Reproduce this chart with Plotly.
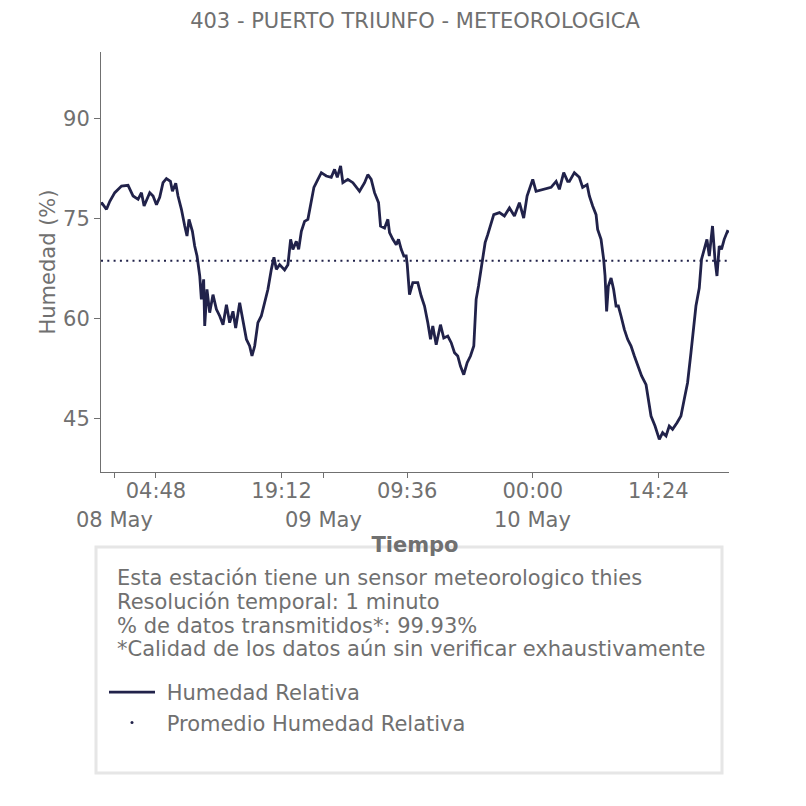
import pandas as pd
import plotly.graph_objects as go

# ---------------- data ----------------
titulo = "403 - PUERTO TRIUNFO - METEOROLOGICA"
inicio_serie = "2024-05-07 22:30"
fin_serie = "2024-05-10 22:30"
origen = "2024-05-08 00:00"

# hours since 08 May 00:00
horas = [-1.50, -1.44, -0.87, -0.49, 0.08, 0.85, 1.60, 2.18, 2.75, 3.14,
         3.44, 4.09, 4.47, 4.86, 5.23, 5.61, 6.00, 6.46, 6.69, 7.07,
         7.33, 7.72, 8.10, 8.36, 8.59, 8.98, 9.24, 9.51, 9.82, 10.01,
         10.27, 10.39, 10.65, 10.96, 11.34, 11.73, 12.11, 12.49, 12.88, 13.25,
         13.63, 13.94, 14.40, 14.78, 15.17, 15.54, 15.81, 16.12, 16.49, 16.88,
         17.26, 17.64, 18.03, 18.33, 18.60, 18.98, 19.55, 19.93, 20.24, 20.50,
         20.89, 21.16, 21.47, 21.84, 22.22, 22.53, 22.91, 23.37, 23.76, 24.33,
         24.90, 25.28, 25.59, 25.97, 26.23, 26.80, 27.38, 28.14, 28.72, 29.09,
         29.48, 29.86, 30.32, 30.55, 31.01, 31.39, 31.58, 31.96, 32.35, 32.61,
         32.92, 33.22, 33.49, 33.61, 33.76, 33.87, 34.25, 34.82, 35.21, 35.59,
         35.97, 36.28, 36.54, 36.93, 37.42, 37.80, 38.26, 38.65, 39.03, 39.40,
         39.71, 40.09, 40.48, 40.86, 41.24, 41.51, 41.78, 42.01, 42.27, 42.54,
         42.84, 43.15, 43.53, 44.18, 44.75, 45.33, 45.90, 46.47, 46.96, 47.35,
         47.73, 48.00, 48.38, 49.33, 50.10, 50.68, 51.05, 51.55, 52.00, 52.20,
         52.77, 53.34, 53.72, 54.23, 54.49, 54.87, 55.26, 55.44, 55.83, 56.13,
         56.29, 56.47, 56.67, 56.98, 57.27, 57.55, 57.81, 58.12, 58.50, 58.88,
         59.27, 59.65, 60.02, 60.48, 60.99, 61.25, 61.56, 62.02, 62.51, 62.89,
         63.28, 63.65, 64.03, 64.54, 64.99, 65.37, 65.75, 66.14, 66.44, 66.71,
         67.09, 67.35, 67.66, 67.97, 68.24, 68.61, 68.89, 69.12, 69.38, 69.64,
         69.95, 70.32, 70.50]

humedad = [77.0, 77.4, 76.4, 77.6, 78.9, 79.9, 80.0, 78.4, 77.9, 78.9,
           76.9, 78.9, 78.4, 77.1, 78.2, 80.4, 81.0, 80.6, 79.1, 80.3,
           78.4, 76.4, 73.9, 72.4, 74.9, 73.1, 70.9, 69.4, 66.4, 62.9,
           65.9, 58.9, 64.4, 60.9, 63.6, 61.4, 60.4, 59.1, 62.1, 59.4,
           61.1, 58.6, 62.4, 59.4, 56.9, 55.9, 54.4, 55.9, 59.4, 60.4,
           62.4, 64.4, 67.4, 69.2, 67.4, 68.1, 67.3, 68.1, 71.9, 70.4,
           71.6, 70.4, 73.1, 74.6, 74.9, 77.1, 79.7, 80.9, 81.9, 81.4,
           81.2, 82.4, 81.2, 82.9, 80.4, 80.9, 80.4, 79.1, 80.4, 81.6,
           80.9, 78.9, 77.4, 73.9, 73.6, 74.9, 72.9, 71.9, 71.1, 71.9,
           70.4, 69.4, 69.4, 68.1, 65.9, 63.6, 65.4, 65.4, 63.4, 61.9,
           59.4, 56.9, 58.9, 56.1, 59.1, 57.1, 57.4, 56.4, 54.9, 54.4,
           52.9, 51.6, 53.4, 54.4, 55.9, 62.9, 64.9, 66.9, 68.9, 71.4,
           72.6, 73.9, 75.6, 75.9, 75.4, 76.6, 75.4, 77.4, 75.1, 78.4,
           79.7, 80.9, 79.1, 79.4, 79.7, 80.6, 79.4, 81.9, 80.6, 80.6,
           81.9, 81.2, 79.7, 80.1, 78.4, 76.9, 75.6, 73.4, 71.9, 68.9,
           66.4, 61.1, 64.9, 66.1, 64.4, 61.9, 61.9, 60.4, 58.4, 56.9,
           55.9, 54.4, 52.9, 51.4, 50.1, 47.9, 45.4, 43.9, 41.9, 42.9,
           42.4, 43.9, 43.4, 44.4, 45.4, 47.9, 50.4, 54.9, 58.9, 61.9,
           64.6, 68.9, 70.4, 71.9, 69.4, 73.9, 68.9, 66.4, 70.9, 70.4,
           71.9, 73.1, 73.0]

promedio = 68.7

tick_x = ["2024-05-08 04:48", "2024-05-08 19:12", "2024-05-09 09:36",
          "2024-05-10 00:00", "2024-05-10 14:24"]
tick_txt = ["04:48", "19:12", "09:36", "00:00", "14:24"]
dias_x = ["2024-05-08 00:00", "2024-05-09 00:00", "2024-05-10 00:00"]
dias_txt = ["08 May", "09 May", "10 May"]
y_ticks = [45, 60, 75, 90]

info_lineas = [
    "Esta estación tiene un sensor meteorologico thies",
    "Resolución temporal: 1 minuto",
    "% de datos transmitidos*: 99.93%",
    "*Calidad de los datos aún sin verificar exhaustivamente",
]

assert len(horas) == len(humedad)

# ---------------- figure ----------------
GRIS = "#707070"
LINEA = "#21224a"
FONT = "DejaVu Sans"
FS = 21
OFF = 8  # page body margin: screen px = figure px + 8

tiempo = pd.Timestamp(origen) + pd.to_timedelta(horas, unit="h")

fig = go.Figure()
fig.add_trace(go.Scatter(
    x=tiempo, y=humedad, mode="lines", name="\u00a0Humedad Relativa",
    line=dict(color=LINEA, width=2.8), legendgroup="a",
))
fig.add_trace(go.Scatter(
    x=[inicio_serie, fin_serie], y=[promedio, promedio], mode="lines",
    line=dict(color=LINEA, width=2, dash="2px,4.3px"),
    showlegend=False, legendgroup="b",
))
fig.add_trace(go.Scatter(
    x=[None], y=[None], mode="markers", name="\u00a0Promedio Humedad Relativa",
    marker=dict(color=LINEA, size=3), legendgroup="b",
))

# plot area in screen pixels: x 101..729, y 52..472
L, R, T, B = 101, 729, 52, 472
W, H = R - L, B - T


def px_x(p):
    return (p - L) / W


def px_y(p):
    return (B - p) / H


annotations = []
for xv, t in zip(dias_x, dias_txt):
    annotations.append(dict(x=xv, xref="x", y=px_y(520), yref="paper",
                            text=t, showarrow=False, yanchor="middle",
                            xanchor="center",
                            font=dict(size=FS, color=GRIS, family=FONT)))
for t, yy in zip(info_lineas, [578, 602, 626, 649]):
    annotations.append(dict(x=px_x(115), xref="paper", y=px_y(yy), yref="paper",
                            text=t, showarrow=False, xanchor="left",
                            yanchor="middle",
                            font=dict(size=FS, color=GRIS, family=FONT)))

fig.update_layout(
    width=806, height=806,
    template="none",
    paper_bgcolor="white", plot_bgcolor="white",
    margin=dict(l=L - OFF, r=806 - (R - OFF), t=T - OFF, b=806 - (B - OFF),
                autoexpand=False),
    font=dict(family=FONT, size=FS, color=GRIS),
    title=dict(text=titulo, x=0.5, xref="paper", xanchor="center",
               y=1 - 5 / 806, yref="container", yanchor="top",
               font=dict(size=FS, color=GRIS, family=FONT)),
    xaxis=dict(
        type="date", range=[inicio_serie, fin_serie],
        showline=True, linecolor=GRIS, linewidth=1, mirror=False,
        showgrid=False, zeroline=False,
        ticks="outside", ticklen=5, tickwidth=1, tickcolor=GRIS,
        tickmode="array", tickvals=tick_x, ticktext=tick_txt,
        tickfont=dict(size=FS, color=GRIS),
        ticklabelstandoff=-5,
        minor=dict(tickmode="array", tickvals=dias_x[:2], ticks="outside",
                   ticklen=5, tickcolor=GRIS, tickwidth=1, showgrid=False),
        title=dict(text="<b>Tiempo</b>", standoff=35,
                   font=dict(size=FS, color=GRIS)),
        automargin=False,
    ),
    yaxis=dict(
        range=[37, 100],
        showline=True, linecolor=GRIS, linewidth=1,
        showgrid=False, zeroline=False,
        ticks="outside", ticklen=6, tickwidth=1, tickcolor=GRIS,
        tickmode="array", tickvals=y_ticks,
        tickfont=dict(size=FS, color=GRIS),
        title=dict(text="Humedad (%)", standoff=1,
                   font=dict(size=FS, color=GRIS)),
        automargin=False,
    ),
    showlegend=True,
    legend=dict(x=px_x(104), xanchor="left", xref="paper",
                y=px_y(672), yanchor="top", yref="paper",
                bgcolor="rgba(0,0,0,0)", borderwidth=0,
                itemwidth=46, traceorder="grouped", tracegroupgap=0,
                font=dict(size=FS, color=GRIS, family=FONT)),
    annotations=annotations,
    shapes=[dict(type="rect", xref="paper", yref="paper",
                 x0=px_x(96), x1=px_x(722), y0=px_y(773), y1=px_y(547),
                 line=dict(color="#e6e6e6", width=3),
                 fillcolor="rgba(0,0,0,0)", layer="above")],
)

fig.write_html("out.html")
